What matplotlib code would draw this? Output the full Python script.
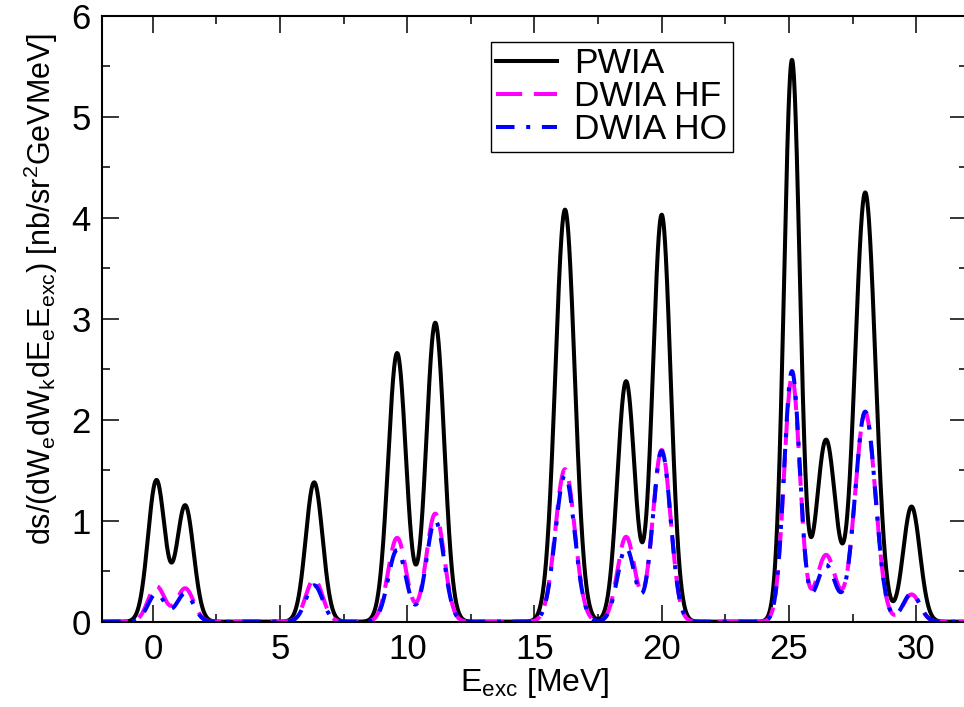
import numpy as np
import matplotlib.pyplot as plt
from matplotlib.ticker import MultipleLocator

plt.rcParams['font.family'] = ['Liberation Sans', 'DejaVu Sans']
plt.rcParams['mathtext.fontset'] = 'custom'
plt.rcParams['mathtext.rm'] = 'Liberation Sans'

# excitation energies of the levels [MeV], peak heights and widths
peak_energy = [0.14, 1.27, 6.34, 9.6, 11.1, 16.2, 18.6, 20.0, 25.12, 26.46, 28.0, 29.82]
pwia = [1.40, 1.15, 1.38, 2.66, 2.96, 4.08, 2.38, 4.03, 5.56, 1.80, 4.25, 1.14]
dwia_hf = [0.35, 0.33, 0.42, 0.83, 1.07, 1.51, 0.84, 1.70, 2.42, 0.66, 2.07, 0.27]
dwia_ho = [0.28, 0.28, 0.36, 0.71, 1.00, 1.45, 0.73, 1.69, 2.48, 0.56, 2.08, 0.28]
peak_width = [0.33, 0.33, 0.33, 0.35, 0.35, 0.38, 0.34, 0.35, 0.31, 0.38, 0.40, 0.33]  # gaussian sigma [MeV]

E = np.linspace(-2, 32, 3000)


def fold(heights):
    y = np.zeros_like(E)
    for e0, h, s in zip(peak_energy, heights, peak_width):
        y += h * np.exp(-(E - e0) ** 2 / (2 * s ** 2))
    return y


fig = plt.figure(figsize=(9.64, 7.07), dpi=100)
ax = fig.add_axes([0.1058, 0.1207, 0.8973, 0.857])

ax.plot(E, fold(pwia), color='black', lw=2.9, label='PWIA')
ax.plot(E, fold(dwia_hf), color='#ff00ff', lw=2.9, dashes=(6.5, 2.9), label='DWIA HF')
ax.plot(E, fold(dwia_ho), color='#0000ff', lw=2.9, dashes=(4.6, 2.9, 1.0, 2.9), label='DWIA HO')

ax.set_xlim(-2, 32)
ax.set_ylim(0, 6)
ax.xaxis.set_major_locator(MultipleLocator(5))
ax.xaxis.set_minor_locator(MultipleLocator(2.5))
ax.yaxis.set_major_locator(MultipleLocator(1))
ax.yaxis.set_minor_locator(MultipleLocator(0.5))
ax.tick_params(which='both', direction='in', top=True, right=True, width=1.1)
ax.tick_params(which='major', length=12, labelsize=25, pad=8)
ax.tick_params(which='minor', length=6)
for s in ax.spines.values():
    s.set_linewidth(1.5)

ax.set_xlabel(r'E$_\mathregular{exc}$ [MeV]', fontsize=23, labelpad=0)
ax.set_ylabel(r'ds/(dW$_\mathregular{e}$dW$_\mathregular{k}$dE$_\mathregular{e}$E$_\mathregular{exc}$) [nb/sr$^\mathregular{2}$GeVMeV]',
              fontsize=22)
ax.yaxis.set_label_coords(-0.048, 0.55)

leg = ax.legend(loc='upper left', bbox_to_anchor=(0.4497, 0.9566), borderaxespad=0,
                fontsize=25.5, handlelength=1.7, handletextpad=0.5,
                labelspacing=0.0, borderpad=0.15, fancybox=False, framealpha=1)
leg.get_frame().set_edgecolor('black')
leg.get_frame().set_linewidth(1.0)

fig.savefig('out.png', dpi=100)
